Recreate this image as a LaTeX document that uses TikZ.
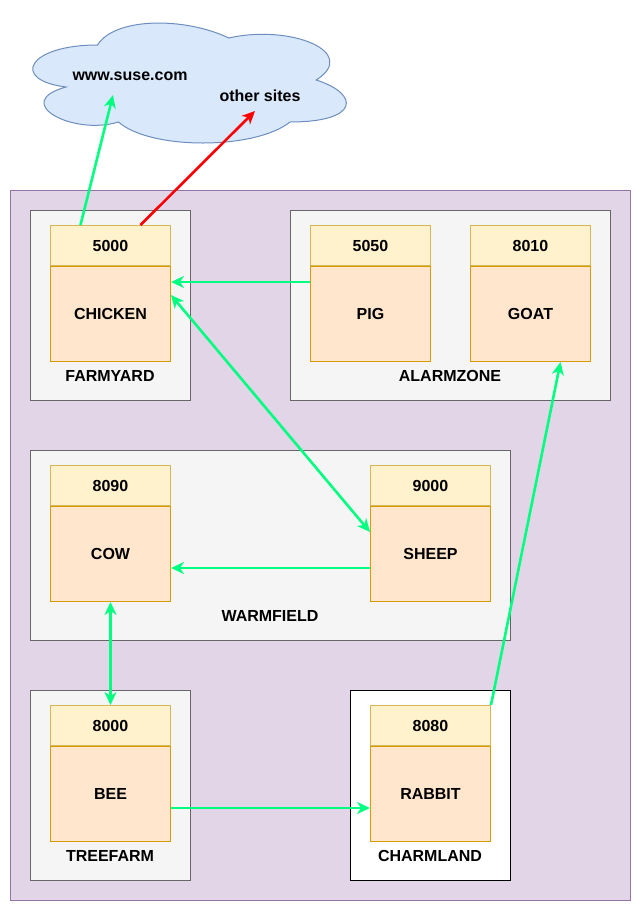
\documentclass[tikz,border=0pt]{standalone}
\usepackage{fontspec}
\setmainfont{Liberation Sans}
\usepackage{xcolor}
\usetikzlibrary{arrows.meta, positioning}

\definecolor{netfill}{HTML}{E1D5E7}
\definecolor{netline}{HTML}{9673A6}
\definecolor{zonefill}{HTML}{F5F5F5}
\definecolor{zoneline}{HTML}{666666}
\definecolor{portfill}{HTML}{FFF2CC}
\definecolor{portline}{HTML}{D6B656}
\definecolor{svcfill}{HTML}{FFE6CC}
\definecolor{svcline}{HTML}{D79B00}
\definecolor{cloudfill}{HTML}{DAE8FC}
\definecolor{cloudline}{HTML}{6C8EBF}
\definecolor{okgreen}{HTML}{00FF80}

\begin{document}
\begin{tikzpicture}[x=1pt, y=-1pt,
    font=\fontsize{16pt}{19pt}\selectfont\bfseries,
    zone/.style={draw=zoneline, fill=zonefill, line width=1pt, anchor=north west, inner sep=0pt},
    port/.style={draw=portline, fill=portfill, line width=1pt, minimum width=120pt, minimum height=40pt, inner sep=0pt, anchor=north west},
    svc/.style={draw=svcline, fill=svcfill, line width=1pt, minimum width=120pt, minimum height=95pt, inner sep=0pt, below=0pt of #1},
    link/.style={okgreen, line width=2.6pt, -{Stealth[length=13pt, width=12pt, inset=4pt]}},
    both/.style={link, {Stealth[length=13pt, width=12pt, inset=4pt]}-{Stealth[length=13pt, width=12pt, inset=4pt]}}]
    % bounding box
    \useasboundingbox (0,0) rectangle (641,911);

    % 1. Internet cloud
    \begin{scope}[shift={(10,10)}, x=350pt, y=-140pt]
        \draw[fill=cloudfill, draw=cloudline, line width=1pt]
            (0.25,0.25) .. controls (0.05,0.25) and (0,0.5) .. (0.16,0.55)
            .. controls (0,0.66) and (0.18,0.9) .. (0.31,0.8)
            .. controls (0.4,1) and (0.7,1) .. (0.8,0.8)
            .. controls (1,0.8) and (1,0.6) .. (0.875,0.5)
            .. controls (1,0.3) and (0.8,0.1) .. (0.625,0.2)
            .. controls (0.5,0.05) and (0.3,0.05) .. (0.25,0.25) -- cycle;
    \end{scope}
    \node (suse) at (130,76) {www.suse.com};
    \node (others) at (260,96) {other sites};
    \coordinate (suseend) at (113,95);
    \coordinate (othersend) at (255,111);

    % 2. Network and zones
    \draw[fill=netfill, draw=netline, line width=1pt] (10,190) rectangle (630,900);
    \node[zone, minimum width=160pt, minimum height=190pt] (farmyard) at (30,210) {};
    \node[zone, minimum width=320pt, minimum height=190pt] (alarmzone) at (290,210) {};
    \node[zone, minimum width=480pt, minimum height=190pt] (warmfield) at (30,450) {};
    \node[zone, minimum width=160pt, minimum height=190pt] (treefarm) at (30,690) {};
    \node[zone, fill=white, draw=black, minimum width=160pt, minimum height=190pt] (charmland) at (350,690) {};
    \node at (110,376) {FARMYARD};
    \node at (450,376) {ALARMZONE};
    \node at (270,616) {WARMFIELD};
    \node at (110,856) {TREEFARM};
    \node at (430,856) {CHARMLAND};

    % 3. Services
    \node[port] (chickenport) at (50,225) {5000};
    \node[svc=chickenport] (chicken) {CHICKEN};
    \node[port] (pigport) at (310,225) {5050};
    \node[svc=pigport] (pig) {PIG};
    \node[port] (goatport) at (470,225) {8010};
    \node[svc=goatport] (goat) {GOAT};
    \node[port] (cowport) at (50,465) {8090};
    \node[svc=cowport] (cow) {COW};
    \node[port] (sheepport) at (370,465) {9000};
    \node[svc=sheepport] (sheep) {SHEEP};
    \node[port] (beeport) at (50,705) {8000};
    \node[svc=beeport] (bee) {BEE};
    \node[port] (rabbitport) at (370,705) {8080};
    \node[svc=rabbitport] (rabbit) {RABBIT};

    % 4. Connections
    \draw[link] ([xshift=-30pt]chickenport.north) -- (suseend);
    \draw[link, red] ([xshift=30pt]chickenport.north) -- (othersend);
    \draw[link] ([yshift=32pt]pig.west) -- ([yshift=32pt]chicken.east);
    \draw[both] ([yshift=19pt]chicken.east) -- ([yshift=22pt]sheep.west);
    \draw[link] ([yshift=-14pt]sheep.west) -- ([yshift=-14pt]cow.east);
    \draw[both] (cow.south) -- (beeport.north);
    \draw[link] ([yshift=-14pt]bee.east) -- ([yshift=-14pt]rabbit.west);
    \draw[link] (rabbitport.north east) -- ([xshift=30pt]goat.south);
\end{tikzpicture}
\end{document}
